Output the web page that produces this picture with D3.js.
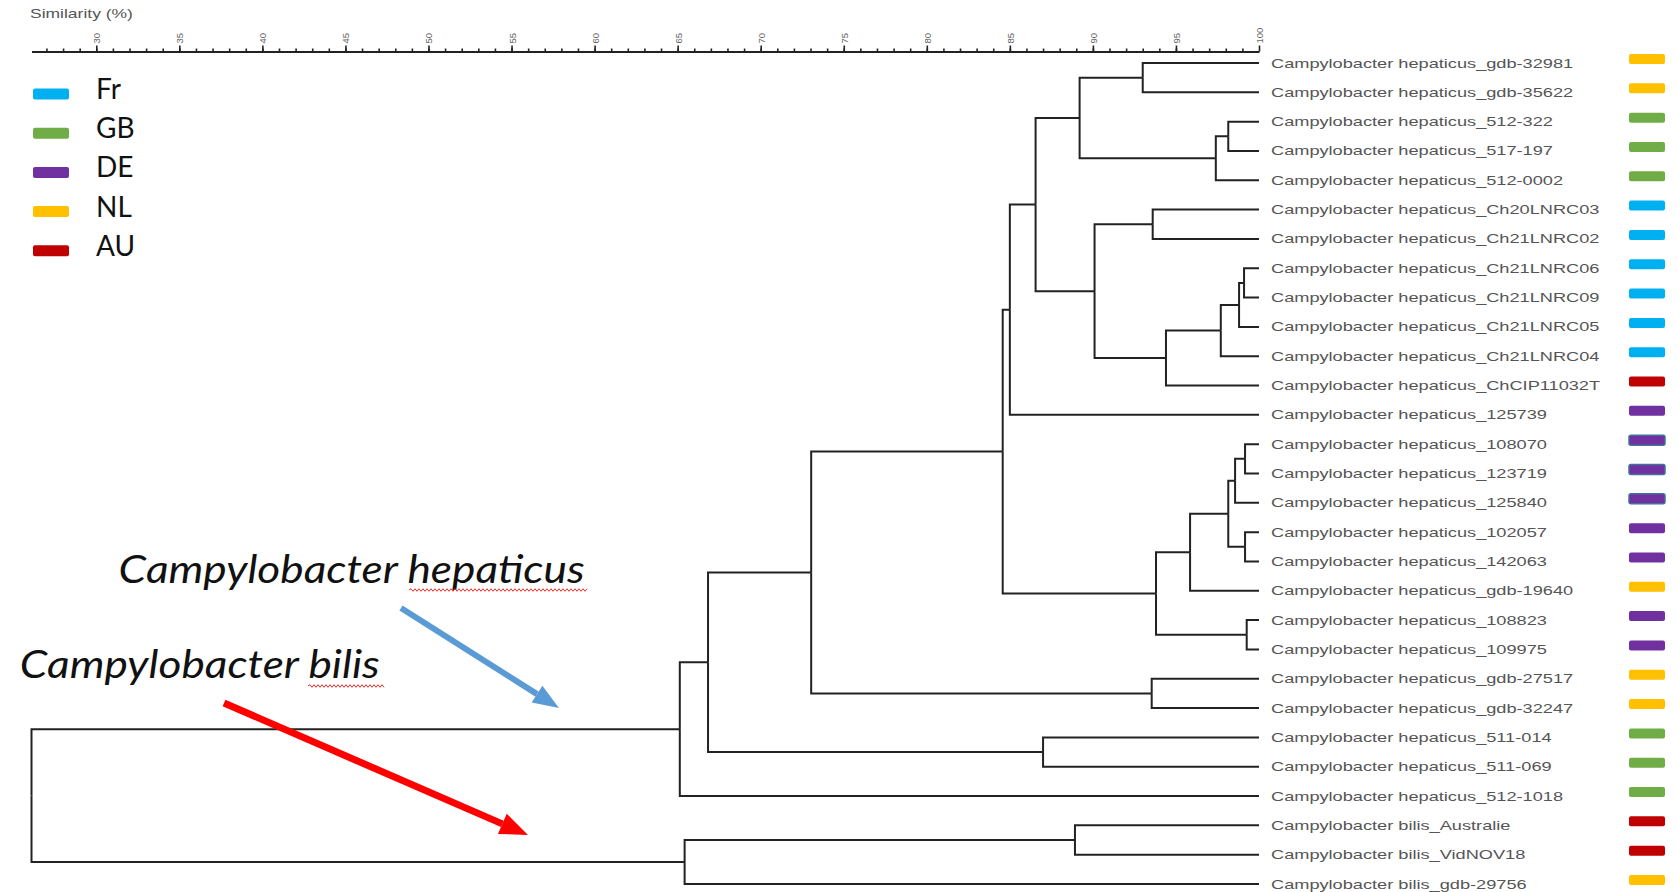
<!DOCTYPE html>
<html>
<head>
<meta charset="utf-8">
<script src="https://cdn.jsdelivr.net/npm/d3@7"></script>
<style>
  body { margin: 0; background: #fff; }
  svg { display: block; }
</style>
</head>
<body>
<svg id="chart" width="1678" height="892"></svg>
<script>
// leaf labels, top to bottom
const strains = [
  "Campylobacter hepaticus_gdb-32981",
  "Campylobacter hepaticus_gdb-35622",
  "Campylobacter hepaticus_512-322",
  "Campylobacter hepaticus_517-197",
  "Campylobacter hepaticus_512-0002",
  "Campylobacter hepaticus_Ch20LNRC03",
  "Campylobacter hepaticus_Ch21LNRC02",
  "Campylobacter hepaticus_Ch21LNRC06",
  "Campylobacter hepaticus_Ch21LNRC09",
  "Campylobacter hepaticus_Ch21LNRC05",
  "Campylobacter hepaticus_Ch21LNRC04",
  "Campylobacter hepaticus_ChCIP11032T",
  "Campylobacter hepaticus_125739",
  "Campylobacter hepaticus_108070",
  "Campylobacter hepaticus_123719",
  "Campylobacter hepaticus_125840",
  "Campylobacter hepaticus_102057",
  "Campylobacter hepaticus_142063",
  "Campylobacter hepaticus_gdb-19640",
  "Campylobacter hepaticus_108823",
  "Campylobacter hepaticus_109975",
  "Campylobacter hepaticus_gdb-27517",
  "Campylobacter hepaticus_gdb-32247",
  "Campylobacter hepaticus_511-014",
  "Campylobacter hepaticus_511-069",
  "Campylobacter hepaticus_512-1018",
  "Campylobacter bilis_Australie",
  "Campylobacter bilis_VidNOV18",
  "Campylobacter bilis_gdb-29756"
];

const countries = [
  "NL", "NL", "GB", "GB", "GB", "Fr", "Fr", "Fr", "Fr", "Fr", "Fr", "AU",
  "DE", "DE", "DE", "DE", "DE", "DE", "NL", "DE", "DE", "NL", "NL",
  "GB", "GB", "GB", "AU", "AU", "NL"
];

// bars drawn with a blue outline in the original
const outlined = [
  "Campylobacter hepaticus_108070",
  "Campylobacter hepaticus_123719",
  "Campylobacter hepaticus_125840"
];

// linkage: [child a, child b, similarity %]; new cluster ids start at 29
const merges = [
  [0, 1, 93.0],     // 29
  [2, 3, 98.15],    // 30
  [30, 4, 97.4],    // 31
  [29, 31, 89.2],   // 32
  [5, 6, 93.6],     // 33
  [7, 8, 99.1],     // 34
  [34, 9, 98.8],    // 35
  [35, 10, 97.7],   // 36
  [36, 11, 94.4],   // 37
  [33, 37, 90.1],   // 38
  [32, 38, 86.55],  // 39
  [39, 12, 85.0],   // 40
  [13, 14, 99.16],  // 41
  [41, 15, 98.56],  // 42
  [16, 17, 99.16],  // 43
  [42, 43, 98.15],  // 44
  [44, 18, 95.85],  // 45
  [19, 20, 99.26],  // 46
  [45, 46, 93.8],   // 47
  [40, 47, 84.57],  // 48
  [21, 22, 93.54],  // 49
  [48, 49, 73.04],  // 50
  [23, 24, 87.0],   // 51
  [50, 51, 66.83],  // 52
  [52, 25, 65.13],  // 53
  [26, 27, 88.92],  // 54
  [54, 28, 65.42],  // 55
  [53, 55, 26.1]    // 56
];

const majorTicks = [30, 35, 40, 45, 50, 55, 60, 65, 70, 75, 80, 85, 90, 95, 100];

const legendCodes = ["Fr", "GB", "DE", "NL", "AU"];
const legendColors = ["#00b0f0", "#70ad47", "#7030a0", "#ffc000", "#c00000"];

const colour = d3.scaleOrdinal().domain(legendCodes).range(legendColors);

const svg = d3.select("#chart");

const leafTop = 63;
const leafBottom = 884;
const rowStep = (leafBottom - leafTop) / (strains.length - 1);

const x = d3.scaleLinear().domain([26.1, 100]).range([31.5, 1259]);

// build the tree from the linkage list
const nodes = strains.map((s, i) => ({ name: s, country: countries[i], sim: 100 }));
merges.forEach(([a, b, sim]) => {
  nodes.push({ sim: sim, children: [nodes[a], nodes[b]] });
});

const root = d3.hierarchy(nodes[nodes.length - 1]);
// cluster pads half a row on each end
d3.cluster()
  .size([rowStep * strains.length, 1])
  .separation(() => 1)(root);

const posX = (d) => x(d.data.sim);
const posY = (d) => leafTop - rowStep / 2 + d.x;

// title of the scale
svg
  .append("text")
  .attr("transform", "translate(30,18) scale(1.4,1)")
  .attr("font-family", "Liberation Sans, Arial, sans-serif")
  .attr("font-size", 12.5)
  .attr("fill", "#555")
  .text("Similarity (%)");

// similarity axis
const axisG = svg.append("g").attr("transform", "translate(0,51.5)");

axisG
  .call(
    d3.axisTop(x)
      .tickValues(d3.range(27, 100))
      .tickSize(3)
      .tickSizeOuter(0)
      .tickFormat("")
  );

const majorG = svg.append("g").attr("transform", "translate(0,51.5)");
majorG.call(
  d3.axisTop(x)
    .tickValues(majorTicks)
    .tickSize(6)
    .tickSizeOuter(0)
    .tickPadding(0)
    .tickFormat(d3.format("d"))
);
majorG.select(".domain").remove();
majorG
  .selectAll("text")
  .attr("transform", "rotate(-90)")
  .attr("text-anchor", "start")
  .attr("x", 8)
  .attr("y", 3.5)
  .attr("dy", 0)
  .attr("font-family", "Liberation Sans, Arial, sans-serif")
  .attr("font-size", 9.5)
  .attr("fill", "#666");

svg.selectAll(".domain").attr("stroke", "#222").attr("stroke-width", 2);
svg.selectAll(".tick line").attr("stroke", "#222").attr("stroke-width", 1.6);

// dendrogram branches
svg
  .append("g")
  .attr("fill", "none")
  .attr("stroke", "#222")
  .attr("stroke-width", 2)
  .selectAll("path")
  .data(root.links())
  .join("path")
  .attr("d", (l) =>
    `M${posX(l.source)},${posY(l.source)}V${posY(l.target)}H${posX(l.target)}`
  );

// leaf labels and country bars
const leaves = root.leaves();

svg
  .append("g")
  .selectAll("text")
  .data(leaves)
  .join("text")
  .attr("transform", (d) => `translate(1271,${posY(d) + 4.5}) scale(1.4,1)`)
  .attr("font-family", "Liberation Sans, Arial, sans-serif")
  .attr("font-size", 13)
  .attr("fill", "#555")
  .text((d) => d.data.name);

svg
  .append("g")
  .selectAll("rect")
  .data(leaves)
  .join("rect")
  .attr("x", 1629)
  .attr("y", (d) => posY(d) - 9)
  .attr("width", 36)
  .attr("height", 10)
  .attr("rx", 2)
  .attr("fill", (d) => colour(d.data.country))
  .attr("stroke", (d) => (outlined.includes(d.data.name) ? "#41719c" : "none"))
  .attr("stroke-width", 1.5);

// legend
const legend = svg
  .append("g")
  .selectAll("g")
  .data(legendCodes)
  .join("g")
  .attr("transform", (d, i) => `translate(33,${94 + i * 39.2})`);

legend
  .append("rect")
  .attr("x", 0)
  .attr("y", -5.5)
  .attr("width", 36)
  .attr("height", 11)
  .attr("rx", 2)
  .attr("fill", (d) => colour(d));

legend
  .append("text")
  .attr("x", 63)
  .attr("y", 5)
  .attr("font-family", "Lato, 'Open Sans', sans-serif")
  .attr("font-size", 28)
  .attr("fill", "#111")
  .text((d) => d);

// annotations
const annot = svg.append("g").attr("font-family", "Lato, 'Open Sans', sans-serif");

annot
  .append("text")
  .attr("x", 118.6)
  .attr("y", 583)
  .attr("font-size", 38)
  .attr("font-style", "italic")
  .attr("fill", "#111")
  .attr("textLength", 466)
  .attr("lengthAdjust", "spacingAndGlyphs")
  .text("Campylobacter hepaticus");

annot
  .append("text")
  .attr("x", 19.8)
  .attr("y", 678)
  .attr("font-size", 38)
  .attr("font-style", "italic")
  .attr("fill", "#111")
  .attr("textLength", 360)
  .attr("lengthAdjust", "spacingAndGlyphs")
  .text("Campylobacter bilis");

// spell-check squiggles
const squiggle = (x0, x1, y) => {
  let p = `M${x0},${y}`;
  let up = true;
  for (let xx = x0 + 2; xx <= x1; xx += 2) {
    p += `L${xx},${y + (up ? -1.3 : 1.3)}`;
    up = !up;
  }
  return p;
};

annot
  .append("path")
  .attr("d", squiggle(409, 587, 590))
  .attr("fill", "none")
  .attr("stroke", "#e53030")
  .attr("stroke-width", 1);

annot
  .append("path")
  .attr("d", squiggle(308, 384, 686))
  .attr("fill", "none")
  .attr("stroke", "#e53030")
  .attr("stroke-width", 1);

// arrows
const drawArrow = (x1, y1, x2, y2, col, w, headLen, headW) => {
  const ang = Math.atan2(y2 - y1, x2 - x1);
  const bx = x2 - headLen * Math.cos(ang);
  const by = y2 - headLen * Math.sin(ang);
  const nx = -Math.sin(ang) * headW / 2;
  const ny = Math.cos(ang) * headW / 2;
  annot
    .append("line")
    .attr("x1", x1)
    .attr("y1", y1)
    .attr("x2", bx)
    .attr("y2", by)
    .attr("stroke", col)
    .attr("stroke-width", w);
  annot
    .append("path")
    .attr("d", `M${x2},${y2}L${bx + nx},${by + ny}L${bx - nx},${by - ny}Z`)
    .attr("fill", col);
};

drawArrow(401, 608, 559, 708, "#5b9bd5", 6, 26, 20);
drawArrow(224, 703, 528, 835, "#ff0000", 7, 28, 22);
</script>
</body>
</html>
